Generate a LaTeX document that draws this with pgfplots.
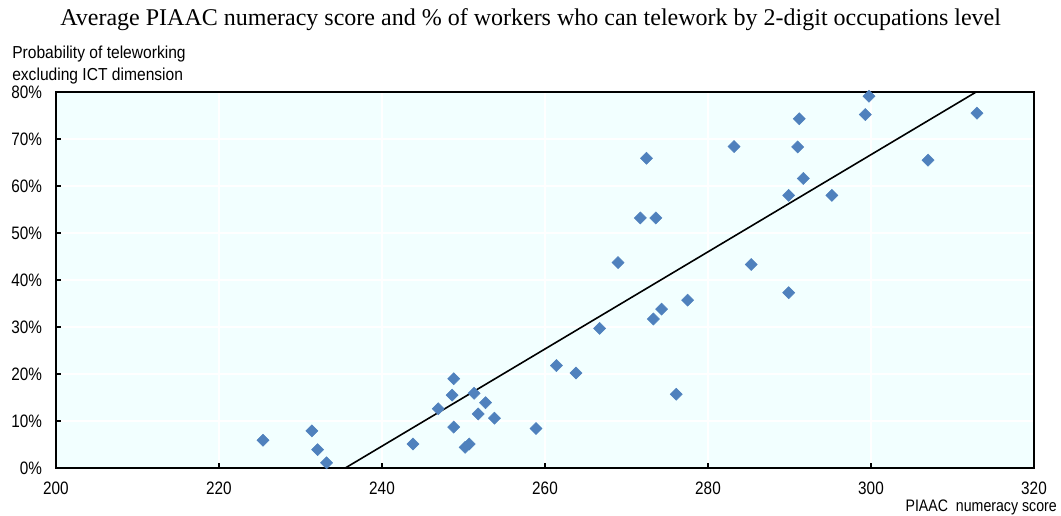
\documentclass[border=0pt]{standalone}
\usepackage{fontspec}
\setmainfont{Liberation Sans}
\newfontfamily\seriffont{Liberation Serif}
\newfontfamily\narrowsans[FakeStretch=0.85]{Liberation Sans}
\newfontfamily\labsans[FakeStretch=0.9]{Liberation Sans}
\usepackage{pgfplots}
\pgfplotsset{compat=1.18}
\definecolor{bgc}{RGB}{242,255,255}
\definecolor{mk}{RGB}{79,129,189}
\begin{document}
\begin{tikzpicture}
\begin{axis}[
  scale only axis,
  width=733.5pt, height=282pt,
  at={(0,0)}, anchor=south west,
  xmin=200, xmax=320, ymin=0, ymax=80,
  xtick={200,220,...,320}, ytick={0,10,...,80},
  axis background/.style={fill=bgc},
  grid=major, major grid style={white, line width=1.1pt},
  axis line style={black, line width=1pt},
  tick align=inside, major tick length=4pt,
  tick style={black, line width=0.8pt},
  xtick pos=bottom, ytick pos=left,
  /pgf/number format/assume math mode=true,
  ticklabel style={font=\narrowsans\fontsize{13.5}{15}\selectfont},
  yticklabel={\pgfmathprintnumber[fixed,precision=0]{\tick}\%},
  xticklabel style={yshift=-7pt},
  yticklabel style={xshift=-7pt},
  clip=false,
]
\addplot[only marks, mark=square*, mark size=3.2pt, mark options={rotate=45, fill=mk, draw=mk}] coordinates {
(225.4,5.9) (231.4,7.9) (232.1,3.9) (233.2,1.1) (243.8,5.1)
(246.9,12.6) (248.6,15.5) (248.8,19.0) (248.8,8.7) (250.2,4.4)
(250.7,5.1) (251.3,15.9) (251.8,11.5) (252.7,13.9) (253.8,10.6)
(258.9,8.4) (261.4,21.8) (263.8,20.2) (266.7,29.7) (268.96,43.7)
(271.7,53.2) (272.45,65.9) (273.6,53.2) (273.3,31.7) (274.3,33.8)
(277.5,35.7) (276.1,15.7) (283.2,68.4) (285.3,43.3) (289.9,37.3)
(289.9,58.0) (291.0,68.3) (291.2,74.3) (291.7,61.6) (295.2,58.0)
(299.3,75.2) (299.75,79.1) (307.0,65.5) (313.0,75.5)
};
\addplot[black, line width=1.2pt] coordinates {(235.5,0) (312.9,80)};
\end{axis}
\node[anchor=base, font=\seriffont\fontsize{18}{20}\selectfont] at (356pt,331.5pt) {Average PIAAC numeracy score and \% of workers who can telework by 2-digit occupations level};
\node[anchor=base west, inner sep=0pt, font=\labsans\fontsize{13}{15}\selectfont] at (-33pt,306.75pt) {Probability of teleworking};
\node[anchor=base west, inner sep=0pt, font=\labsans\fontsize{13}{15}\selectfont] at (-33pt,290.25pt) {excluding ICT dimension};
\node[anchor=base east, inner sep=0pt, font=\narrowsans\fontsize{12.5}{14}\selectfont] at (750.75pt,-32.5pt) {PIAAC\ \ numeracy score};
\pgfresetboundingbox
\path[use as bounding box] (-42pt,-36pt) rectangle (753.75pt,351pt);
\end{tikzpicture}
\end{document}
